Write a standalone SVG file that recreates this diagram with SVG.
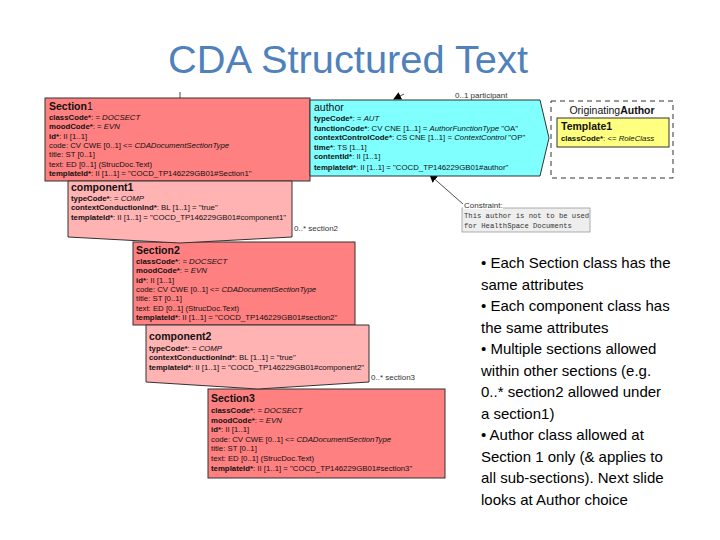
<svg xmlns="http://www.w3.org/2000/svg" width="720" height="540" viewBox="0 0 720 540">
<defs>
<style>
.title{font-family:"Liberation Sans",Arial,sans-serif;font-size:39px;fill:#4f81bd}
.u{font-family:"Liberation Sans",Arial,sans-serif;font-size:7.8px;fill:#111}
.h{font-family:"Liberation Sans",Arial,sans-serif;font-size:10.5px;font-weight:bold;fill:#111}
.ha{font-family:"Liberation Sans",Arial,sans-serif;font-size:10.5px;fill:#111}
.b{font-weight:bold}
.i{font-style:italic}
.sec{fill:#ff8080;stroke:#333;stroke-width:1}
.comp{fill:#ffb3b3;stroke:#333;stroke-width:1}
.auth{fill:#80ffff;stroke:#333;stroke-width:1}
.tpl{fill:#ffff80;stroke:#333;stroke-width:1}
.dash{fill:none;stroke:#333;stroke-width:1;stroke-dasharray:5 4}
.note{fill:#eeeeee;stroke:#999;stroke-width:0.8}
.mono{font-family:"Liberation Mono","Courier New",monospace;font-size:7.2px;fill:#333}
.lbl{font-family:"Liberation Sans",Arial,sans-serif;font-size:8px;fill:#333}
.bul{font-family:"Liberation Sans",Arial,sans-serif;font-size:15px;fill:#000}
.conn{stroke:#222;stroke-width:0.8;fill:none}
</style>
<marker id="ah" markerWidth="8" markerHeight="8" refX="7" refY="4" orient="auto" markerUnits="userSpaceOnUse">
<path d="M0,0 L8,4 L0,8 Z" fill="#000"/>
</marker>
<clipPath id="topclip"><rect x="0" y="93" width="720" height="10"/></clipPath>
</defs>

<text class="title" x="168" y="73" textLength="360" lengthAdjust="spacingAndGlyphs">CDA Structured Text</text>

<g id="connectors">
<line class="conn" x1="180" y1="92" x2="180" y2="98"/>
<line class="conn" x1="404" y1="94" x2="394" y2="99" marker-end="url(#ah)"/>
<line class="conn" x1="463" y1="204" x2="430" y2="175" marker-end="url(#ah)"/>
<text class="lbl" x="455" y="98" clip-path="url(#topclip)">0..1 participant</text>
<text class="lbl" x="294" y="231">0..* section2</text>
<text class="lbl" x="371" y="380">0..* section3</text>
</g>

<g id="section1">
<rect class="sec" x="45" y="98" width="265" height="83"/>
<text class="h" x="49" y="110">Section<tspan font-weight="normal">1</tspan></text>
<text class="u" x="49" y="120"><tspan class="b">classCode*</tspan>: = <tspan class="i">DOCSECT</tspan></text>
<text class="u" x="49" y="129.3"><tspan class="b">moodCode*</tspan>: = <tspan class="i">EVN</tspan></text>
<text class="u" x="49" y="138.6"><tspan class="b">id*</tspan>: II [1..1]</text>
<text class="u" x="49" y="147.9">code: CV CWE [0..1] &lt;= <tspan class="i">CDADocumentSectionType</tspan></text>
<text class="u" x="49" y="157.2">title: ST [0..1]</text>
<text class="u" x="49" y="166.5">text: ED [0..1] (StrucDoc.Text)</text>
<text class="u" x="49" y="175.8"><tspan class="b">templateId*</tspan>: II [1..1] = "COCD_TP146229GB01#Section1"</text>
</g>

<g id="author">
<path class="auth" d="M310,100 L540,100 L549,138 L540,176 L310,176 Z"/>
<text class="ha" x="314" y="111">author</text>
<text class="u" x="314" y="121"><tspan class="b">typeCode*</tspan>: = <tspan class="i">AUT</tspan></text>
<text class="u" x="314" y="130.5"><tspan class="b">functionCode*</tspan>: CV CNE [1..1] = <tspan class="i">AuthorFunctionType</tspan> "OA"</text>
<text class="u" x="314" y="140"><tspan class="b">contextControlCode*</tspan>: CS CNE [1..1] = <tspan class="i">ContextControl</tspan> "OP"</text>
<text class="u" x="314" y="149.5"><tspan class="b">time*</tspan>: TS [1..1]</text>
<text class="u" x="314" y="159"><tspan class="b">contentId*</tspan>: II [1..1]</text>
<text class="u" x="314" y="169.5"><tspan class="b">templateId*</tspan>: II [1..1] = "COCD_TP146229GB01#author"</text>
</g>

<g id="originatingAuthor">
<rect class="dash" x="551" y="101" width="122" height="77"/>
<text class="ha" x="612" y="114" text-anchor="middle">Originating<tspan font-weight="bold">Author</tspan></text>
<rect class="tpl" x="557" y="118" width="112" height="29"/>
<text class="h" x="561" y="130">Template1</text>
<text class="u" x="561" y="141"><tspan class="b">classCode*</tspan>: &lt;= <tspan class="i">RoleClass</tspan></text>
</g>

<g id="constraint">
<rect class="note" x="462" y="208" width="128" height="24"/>
<rect x="463" y="201" width="40" height="8" fill="#fff"/>
<text class="lbl" x="464" y="208">Constraint:</text>
<text class="mono" x="464" y="218">This author is not to be used</text>
<text class="mono" x="464" y="228">for HealthSpace Documents</text>
</g>

<g id="section2">
<rect class="sec" x="133" y="242" width="222" height="83"/>
<text class="h" x="136" y="254">Section2</text>
<text class="u" x="136" y="264"><tspan class="b">classCode*</tspan>: = <tspan class="i">DOCSECT</tspan></text>
<text class="u" x="136" y="273.3"><tspan class="b">moodCode*</tspan>: = <tspan class="i">EVN</tspan></text>
<text class="u" x="136" y="282.6"><tspan class="b">id*</tspan>: II [1..1]</text>
<text class="u" x="136" y="291.9">code: CV CWE [0..1] &lt;= <tspan class="i">CDADocumentSectionType</tspan></text>
<text class="u" x="136" y="301.2">title: ST [0..1]</text>
<text class="u" x="136" y="310.5">text: ED [0..1] (StrucDoc.Text)</text>
<text class="u" x="136" y="319.8"><tspan class="b">templateId*</tspan>: II [1..1] = "COCD_TP146229GB01#section2"</text>
</g>

<g id="section3">
<rect class="sec" x="208" y="389" width="237" height="89"/>
<text class="h" x="211" y="402">Section3</text>
<text class="u" x="211" y="413"><tspan class="b">classCode*</tspan>: = <tspan class="i">DOCSECT</tspan></text>
<text class="u" x="211" y="422.5"><tspan class="b">moodCode*</tspan>: = <tspan class="i">EVN</tspan></text>
<text class="u" x="211" y="432"><tspan class="b">id*</tspan>: II [1..1]</text>
<text class="u" x="211" y="441.8">code: CV CWE [0..1] &lt;= <tspan class="i">CDADocumentSectionType</tspan></text>
<text class="u" x="211" y="451.3">title: ST [0..1]</text>
<text class="u" x="211" y="460.8">text: ED [0..1] (StrucDoc.Text)</text>
<text class="u" x="211" y="470.5"><tspan class="b">templateId*</tspan>: II [1..1] = "COCD_TP146229GB01#section3"</text>
</g>

<g id="component1">
<path class="comp" d="M68,181 L292,181 L292,237 L180,243 L68,237 Z"/>
<text class="h" x="71" y="191">component1</text>
<text class="u" x="71" y="201"><tspan class="b">typeCode*</tspan>: = <tspan class="i">COMP</tspan></text>
<text class="u" x="71" y="210.3"><tspan class="b">contextConductionInd*</tspan>: BL [1..1] = "true"</text>
<text class="u" x="71" y="219.6"><tspan class="b">templateId*</tspan>: II [1..1] = "COCD_TP146229GB01#component1"</text>
</g>

<g id="component2">
<path class="comp" d="M146,325 L369,325 L369,382 L258,389 L146,382 Z"/>
<text class="h" x="149" y="340">component2</text>
<text class="u" x="149" y="351"><tspan class="b">typeCode*</tspan>: = <tspan class="i">COMP</tspan></text>
<text class="u" x="149" y="360.3"><tspan class="b">contextConductionInd*</tspan>: BL [1..1] = "true"</text>
<text class="u" x="149" y="369.6"><tspan class="b">templateId*</tspan>: II [1..1] = "COCD_TP146229GB01#component2"</text>
</g>

<g id="bullets">
<text class="bul" x="481" y="268">• Each Section class has the</text>
<text class="bul" x="481" y="289.5">same attributes</text>
<text class="bul" x="481" y="311">• Each component class has</text>
<text class="bul" x="481" y="332.5">the same attributes</text>
<text class="bul" x="481" y="354">• Multiple sections allowed</text>
<text class="bul" x="481" y="375.5">within other sections (e.g.</text>
<text class="bul" x="481" y="397">0..* section2 allowed under</text>
<text class="bul" x="481" y="418.5">a section1)</text>
<text class="bul" x="481" y="440">• Author class allowed at</text>
<text class="bul" x="481" y="461.5">Section 1 only (&amp; applies to</text>
<text class="bul" x="481" y="483">all sub-sections). Next slide</text>
<text class="bul" x="481" y="504.5">looks at Author choice</text>
</g>
</svg>
